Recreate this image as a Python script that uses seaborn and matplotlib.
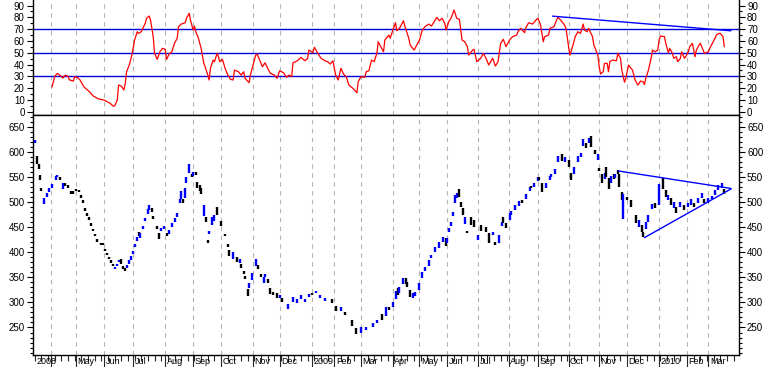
import matplotlib.pyplot as plt
import matplotlib.ticker as mticker
import numpy as np
import pandas as pd
import seaborn as sns

# trading-session index (0 = first bar on the chart)
bar_day = [0, 2, 3, 4, 5, 7, 9, 11, 13, 16, 17, 19, 21, 23, 25, 27, 29, 31, 33, 35,
           36, 38, 39, 41, 42, 44, 45, 47, 50, 51, 53, 54, 56, 57, 59, 60, 62, 63, 65, 66,
           68, 69, 71, 72, 74, 75, 77, 78, 79, 81, 83, 85, 86, 88, 89, 92, 93, 95, 97, 99,
           101, 103, 105, 107, 109, 110, 111, 113, 114, 116, 118, 119, 121, 122, 124, 125, 127, 129, 130, 131,
           133, 135, 137, 140, 143, 145, 146, 149, 152, 154, 155, 157, 158, 160, 161, 163, 166, 168, 170, 172,
           173, 175, 177, 179, 182, 184, 186, 190, 194, 197, 200, 203, 206, 208, 211, 214, 218, 223, 226, 230,
           233, 238, 241, 245, 249, 254, 257, 261, 264, 266, 269, 271, 273, 274, 277, 279, 280, 282, 284, 286,
           289, 291, 293, 296, 298, 301, 304, 307, 309, 310, 311, 313, 314, 316, 317, 319, 320, 322, 323, 325,
           328, 330, 333, 335, 339, 341, 344, 346, 349, 351, 352, 354, 357, 358, 361, 364, 366, 369, 372, 373,
           375, 378, 379, 381, 384, 387, 388, 391, 393, 396, 398, 401, 403, 405, 408, 410, 412, 414, 416, 418,
           421, 423, 424, 426, 428, 429, 431, 433, 435, 436, 438, 439, 441, 442, 445, 448, 452, 454, 456, 457,
           459, 461, 464, 466, 469, 472, 474, 476, 478, 480, 482, 485, 488, 491, 493, 495, 498, 501, 503, 506,
           509, 511, 513, 516, 518]
bar_open = [617, 592, 575, 553, 527, 496, 510, 520, 528, 543, 549, 550, 526, 538, 533, 522, 521, 525, 523, 514,
            503, 488, 478, 470, 458, 447, 437, 426, 419, 418, 406, 398, 390, 384, 377, 367, 372, 380, 387, 372,
            368, 368, 376, 385, 396, 410, 423, 441, 428, 446, 462, 477, 485, 488, 472, 452, 438, 442, 446, 438,
            437, 451, 461, 471, 497, 506, 506, 508, 538, 558, 556, 552, 560, 540, 534, 527, 472, 470, 424, 436,
            455, 462, 490, 463, 437, 416, 404, 386, 390, 378, 376, 362, 352, 326, 328, 345, 372, 374, 356, 339,
            350, 346, 328, 320, 318, 309, 308, 287, 300, 298, 306, 300, 310, 319, 318, 309, 302, 306, 293, 283,
            280, 265, 249, 240, 245, 251, 258, 276, 272, 291, 290, 306, 328, 318, 336, 348, 340, 324, 308, 312,
            324, 348, 362, 372, 388, 400, 408, 420, 428, 418, 440, 452, 472, 498, 508, 526, 500, 488, 456, 442,
            470, 464, 424, 454, 450, 438, 434, 421, 418, 452, 470, 458, 464, 474, 484, 492, 504, 506, 522, 532,
            530, 542, 550, 538, 528, 544, 550, 556, 580, 596, 580, 584, 558, 556, 580, 590, 612, 618, 618, 632,
            604, 584, 568, 556, 546, 570, 548, 538, 556, 548, 563, 556, 520, 466, 510, 504, 474, 450, 454, 440,
            446, 460, 486, 498, 494, 548, 524, 504, 508, 488, 490, 490, 494, 490, 494, 498, 498, 508, 505, 498,
            506, 514, 524, 528, 526]
bar_close = [623, 575, 566, 544, 521, 508, 518, 527, 535, 551, 554, 543, 538, 531, 527, 515, 516, 521, 519, 508,
             498, 483, 473, 465, 453, 442, 432, 421, 415, 414, 402, 394, 386, 379, 372, 371, 376, 385, 377, 367,
             363, 374, 384, 393, 403, 417, 430, 432, 438, 452, 468, 486, 494, 480, 466, 446, 427, 449, 452, 432,
             445, 458, 468, 478, 506, 521, 498, 528, 550, 576, 549, 560, 553, 527, 522, 516, 494, 460, 418, 442,
             470, 474, 474, 452, 432, 411, 392, 400, 381, 386, 368, 357, 346, 313, 339, 358, 386, 366, 350, 351,
             357, 339, 316, 314, 308, 315, 301, 296, 310, 306, 314, 306, 317, 314, 323, 314, 309, 298, 282, 290,
             275, 252, 238, 250, 251, 259, 265, 264, 290, 285, 300, 322, 314, 330, 348, 336, 330, 310, 318, 320,
             338, 360, 370, 384, 395, 410, 420, 430, 412, 428, 448, 460, 480, 514, 518, 510, 490, 474, 470, 438,
             455, 451, 434, 442, 441, 419, 440, 414, 434, 460, 458, 449, 478, 482, 494, 502, 497, 515, 530, 527,
             538, 550, 544, 520, 538, 552, 556, 566, 592, 582, 590, 570, 544, 570, 592, 598, 626, 608, 628, 610,
             596, 596, 562, 538, 558, 550, 526, 552, 546, 556, 555, 530, 504, 516, 503, 490, 458, 464, 440, 430,
             460, 474, 496, 488, 536, 526, 510, 514, 494, 500, 478, 500, 484, 498, 506, 490, 508, 518, 498, 508,
             512, 524, 534, 538, 516]

# RSI line
rsi_day = [13, 15, 17, 20, 21, 23, 25, 26, 29, 30, 32, 34, 37, 41, 44, 48, 52, 56, 59, 60,
           62, 63, 65, 67, 68, 69, 71, 73, 75, 77, 78, 80, 83, 84, 86, 87, 89, 90, 92, 94,
           96, 98, 99, 101, 103, 105, 107, 108, 110, 113, 114, 116, 117, 119, 120, 121, 123, 125, 127, 128,
           130, 131, 132, 134, 135, 137, 138, 139, 141, 143, 145, 147, 149, 150, 153, 155, 157, 158, 161, 162,
           164, 166, 167, 169, 171, 173, 175, 177, 180, 182, 184, 187, 189, 191, 193, 194, 196, 198, 200, 203,
           205, 206, 209, 210, 212, 215, 218, 220, 222, 224, 226, 228, 230, 232, 234, 236, 239, 242, 243, 245,
           248, 249, 251, 253, 255, 257, 258, 260, 262, 263, 266, 267, 269, 271, 272, 274, 277, 278, 281, 282,
           285, 287, 289, 291, 293, 296, 298, 300, 302, 304, 306, 308, 309, 311, 313, 315, 317, 319, 321, 323,
           325, 326, 329, 330, 332, 335, 337, 339, 341, 344, 346, 348, 350, 352, 354, 356, 357, 359, 362, 363,
           365, 368, 369, 371, 374, 377, 378, 380, 382, 383, 386, 387, 390, 392, 393, 395, 398, 399, 400, 401,
           402, 404, 406, 408, 410, 412, 413, 415, 416, 419, 420, 422, 423, 424, 425, 427, 428, 430, 431, 432,
           434, 437, 438, 440, 441, 443, 444, 446, 447, 449, 451, 453, 454, 455, 457, 458, 459, 461, 463, 464,
           466, 468, 469, 470, 473, 474, 476, 477, 479, 480, 482, 483, 485, 486, 488, 489, 491, 492, 494, 495,
           496, 497, 499, 500, 502, 503, 506, 507, 509, 511, 512, 514, 515, 517, 518]
rsi_val = [21, 30, 32.5, 30, 28.5, 31, 30, 27, 26, 29.7, 29, 27, 21, 17, 13.3, 10.8, 9.9, 7.6, 4.8, 4.8,
           10, 22.6, 21.8, 18.4, 24, 33.9, 39.6, 48, 60.8, 67.8, 66.4, 67.8, 74.9, 79.2, 81.1, 77.7, 63.6, 49.5, 44.4, 50.8,
           53.7, 52.9, 44.4, 48.9, 50.8, 58, 62.2, 72, 74.3, 75.4, 79.2, 83.4, 77.7, 69.2, 72.6, 67.8, 62.2, 53.7, 41, 38.1,
           31.1, 26.9, 36.8, 43.8, 42.4, 49.5, 46.6, 42.4, 44.4, 36.8, 31.1, 27.5, 26.9, 35.3, 33.9, 31.1, 33.9, 28.3, 24.6, 31.1,
           39.6, 48, 48.9, 43.8, 38.1, 41.5, 36.8, 32.5, 31.1, 28.3, 34.7, 33, 29.2, 31.1, 29.7, 41.5, 42.4, 43.8, 46.1, 43.2,
           45.3, 52.3, 50, 54.6, 50.8, 45.3, 43.2, 42.4, 40.4, 43.2, 31.1, 26.9, 36.8, 31.9, 29.7, 22.6, 19.8, 16.1, 25.4, 29.7,
           29.2, 33.9, 34.7, 43.8, 42.4, 49.5, 59.3, 55.1, 50.8, 60.8, 65, 62.2, 69.2, 75.4, 68.6, 70.7, 77.1, 72.6, 62.2, 56.5,
           52.3, 56.5, 60.8, 68.6, 72, 74.3, 72.6, 76.3, 80, 77.1, 79.2, 74.9, 69.2, 76.3, 80, 86.2, 79.2, 78.3, 60.8, 59.3,
           55.1, 48, 52.3, 52.9, 42.4, 45.3, 49.5, 45.3, 39.6, 45.3, 38.7, 42.4, 58, 61.4, 55.1, 59.3, 61.4, 63.6, 65, 67.8,
           70.7, 67, 71.5, 75.4, 74.3, 78.3, 79.2, 73.5, 59.3, 63.6, 65, 70.7, 72, 77.7, 80, 77.7, 73.5, 70.7, 63.6, 55.1,
           48, 55.1, 63.6, 67.8, 66.4, 74.3, 69.2, 67.8, 70.7, 63.6, 56.5, 50.8, 48, 38.1, 32, 33.9, 41, 41, 33.9, 42.4,
           43.8, 43.2, 49.5, 45.3, 35.3, 25, 28.3, 39.6, 38.1, 35.3, 26.9, 22.6, 24, 26, 25.4, 23, 28.3, 35.3, 45.3, 52.3,
           50.8, 52.3, 60.8, 64.2, 63.6, 58, 50, 53.7, 49.5, 45.3, 46.6, 42.4, 45.3, 50.8, 45.3, 46.6, 50.8, 55.1, 58, 52.3,
           46.6, 52.3, 56.5, 58, 52.3, 49.5, 50.8, 53.7, 58, 62.2, 65, 66.4, 66.4, 63.6, 55.1]

rsi_levels = [30, 50, 70]
rsi_trend_day = [389, 523]
rsi_trend_val = [81, 68.6]

# triangle drawn on the price panel
tri_upper_day = [438, 523]
tri_upper_val = [562, 527]
tri_lower_day = [458, 523]
tri_lower_val = [429, 526]

# first session of each month
month_pos = [12, 31, 52, 74, 98, 119, 140, 164, 184, 208, 225, 245, 269, 289, 310, 333,
             356, 378, 401, 424, 445, 469, 490, 506]
month_lab = ['', 'May', 'Jun', 'Jul', 'Aug', 'Sep', 'Oct', 'Nov', 'Dec', '2009', 'Feb', 'Mar',
             'Apr', 'May', 'Jun', 'Jul', 'Aug', 'Sep', 'Oct', 'Nov', 'Dec', '2010', 'Feb', 'Mar']

sns.set_style('white')
plt.rcParams['font.family'] = ['Liberation Sans', 'DejaVu Sans']
plt.rcParams['font.size'] = 7

W, H = 770, 367
fig = plt.figure(figsize=(W / 100, H / 100), dpi=100)
ax_rsi = fig.add_axes([33 / W, 1 - 115.5 / H, 705.7 / W, 115.5 / H])
ax_px = fig.add_axes([33 / W, 12 / H, 705.7 / W, 239.5 / H])

blue = '#0000ff'
grid_kw = dict(color='#b4b4b4', lw=0.8, ls=(0, (4, 4)), zorder=0)

for ax in (ax_rsi, ax_px):
    ax.set_xlim(-1.3, 528.8)
    for p in month_pos:
        ax.axvline(p, **grid_kw)
    for s in ax.spines.values():
        s.set_color('black')
        s.set_linewidth(1.0)
    ax.spines['top'].set_visible(False)
    ax.tick_params(axis='y', which='both', direction='out', left=True, right=True,
                   labelleft=True, labelright=True, colors='black', labelsize=7, pad=2)
    ax.tick_params(axis='y', which='major', length=4, width=0.8)
    ax.tick_params(axis='y', which='minor', length=2.5, width=0.8)

# RSI panel
df_rsi = pd.DataFrame({'day': rsi_day, 'rsi': rsi_val})
sns.lineplot(data=df_rsi, x='day', y='rsi', ax=ax_rsi, color='#ff0000', lw=0.9,
             estimator=None, zorder=3)
for lv in rsi_levels:
    ax_rsi.axhline(lv, color='#0000e0', lw=1.0, zorder=2)
sns.lineplot(x=rsi_trend_day, y=rsi_trend_val, ax=ax_rsi, color=blue, lw=1.0, zorder=3)
ax_rsi.set_ylim(-3.2, 94.7)
ax_rsi.yaxis.set_major_locator(mticker.MultipleLocator(10))
ax_rsi.yaxis.set_minor_locator(mticker.MultipleLocator(5))
ax_rsi.set_xticks([])
ax_rsi.set_xlabel('')
ax_rsi.set_ylabel('')

# price panel: candle bodies as short vertical bars
o = np.array(bar_open, dtype=float)
c = np.array(bar_close, dtype=float)
cols = np.where(c >= o, blue, 'black')
ax_px.vlines(bar_day, np.minimum(o, c), np.maximum(o, c), colors=cols, lw=1.7, zorder=3)
sns.lineplot(x=tri_upper_day, y=tri_upper_val, ax=ax_px, color=blue, lw=1.0, zorder=4)
sns.lineplot(x=tri_lower_day, y=tri_lower_val, ax=ax_px, color=blue, lw=1.0, zorder=4)
ax_px.set_ylim(195.2, 672.3)
ax_px.yaxis.set_major_locator(mticker.FixedLocator(range(250, 651, 50)))
ax_px.yaxis.set_minor_locator(mticker.MultipleLocator(10))
ax_px.spines['top'].set_visible(True)

ax_px.set_xticks(month_pos)
ax_px.set_xticklabels([])
ax_px.xaxis.set_minor_locator(mticker.MultipleLocator(5))
ax_px.tick_params(axis='x', which='major', direction='out', length=11, width=0.8, bottom=True)
ax_px.tick_params(axis='x', which='minor', direction='out', length=4, width=0.8, bottom=True)
ax_px.set_xlabel('')
ax_px.set_ylabel('')

labels = [(0, '2008')] + [(p, t) for p, t in zip(month_pos, month_lab) if t]
for p, t in labels:
    ax_px.annotate(t, xy=(p, 0), xycoords=('data', 'axes fraction'),
                   xytext=(1.5, -2.5), textcoords='offset pixels',
                   ha='left', va='top', fontsize=6.5, color='black', annotation_clip=False)

fig.savefig('out.png', dpi=100, facecolor='white')
